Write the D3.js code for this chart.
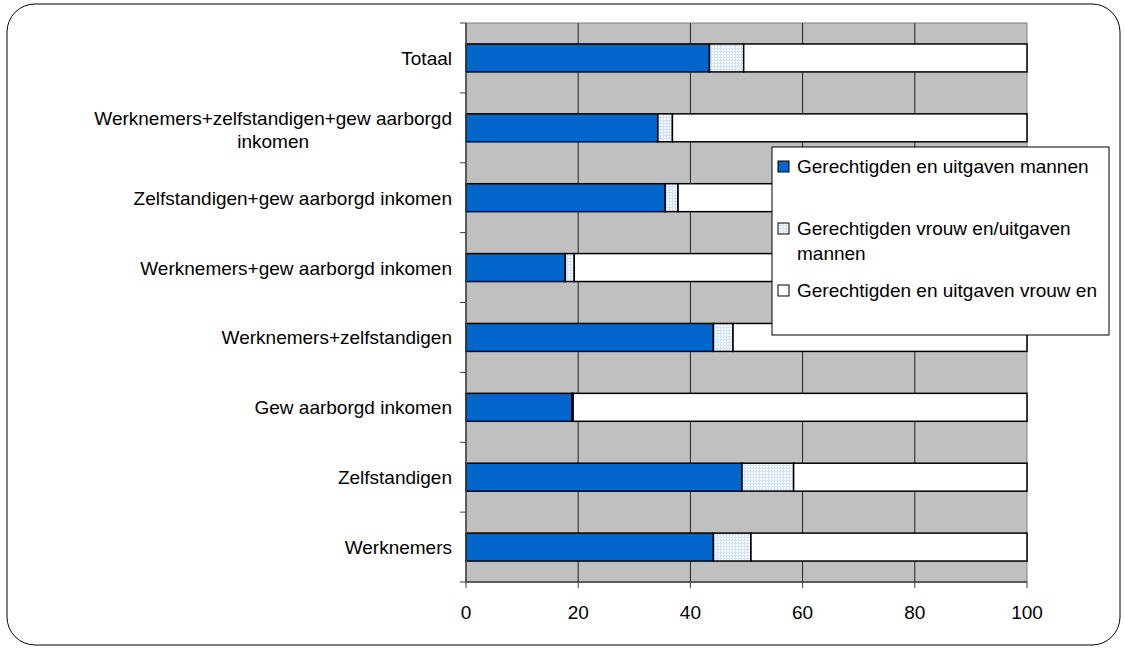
<!DOCTYPE html>
<html lang="nl">
<head>
<meta charset="UTF-8">
<title>Gerechtigden en uitgaven</title>
<script src="https://d3js.org/d3.v7.min.js"></script>
<style>
    body { margin: 0; background: #fff; }
    svg text { font-family: "Liberation Sans", Arial, sans-serif; font-size: 19px; fill: #000; }
</style>
</head>
<body>
<div id="chart"></div>
<script>
// data (percent)
const categories = [
    "Totaal",
    "Werknemers+zelfstandigen+gew aarborgd\ninkomen",
    "Zelfstandigen+gew aarborgd inkomen",
    "Werknemers+gew aarborgd inkomen",
    "Werknemers+zelfstandigen",
    "Gew aarborgd inkomen",
    "Zelfstandigen",
    "Werknemers"
];
const mannen        = [43.4, 34.2, 35.5, 17.7, 44.1, 18.9, 49.2, 44.1];
const vrouwenMannen = [6.1, 2.6, 2.3, 1.6, 3.5, 0.2, 9.2, 6.7];
const vrouwen       = [50.5, 63.2, 62.2, 80.7, 52.4, 80.9, 41.6, 49.2];
const seriesNames = [
    "Gerechtigden en uitgaven mannen",
    "Gerechtigden vrouw en/uitgaven\nmannen",
    "Gerechtigden en uitgaven vrouw en"
];
const xTicks = [0, 20, 40, 60, 80, 100];

const width = 1125, height = 649;
const plot = { left: 466, right: 1027, top: 23, bottom: 582 };

const svg = d3.select("#chart").append("svg")
    .attr("width", width)
    .attr("height", height);

// pattern for the light series
const defs = svg.append("defs");
const pat = defs.append("pattern")
    .attr("id", "dots")
    .attr("width", 3).attr("height", 3)
    .attr("patternUnits", "userSpaceOnUse");
pat.append("rect").attr("width", 3).attr("height", 3).attr("fill", "#f6f9fd");
pat.append("rect").attr("width", 3).attr("height", 1).attr("fill", "#d3e2f6");
pat.append("rect").attr("width", 1).attr("height", 3).attr("fill", "#d3e2f6");

const colors = ["#0066cc", "url(#dots)", "#ffffff"];

// outer frame
svg.append("rect")
    .attr("x", 7).attr("y", 4)
    .attr("width", 1113).attr("height", 641)
    .attr("rx", 28).attr("ry", 28)
    .attr("fill", "#fff")
    .attr("stroke", "#000")
    .attr("stroke-width", 1);

const x = d3.scaleLinear().domain([0, 100]).range([plot.left, plot.right]);
const y = d3.scaleBand().domain(categories)
    .range([plot.top, plot.bottom])
    .paddingInner(0.6).paddingOuter(0.3);

// plot background
svg.append("rect")
    .attr("x", plot.left).attr("y", plot.top)
    .attr("width", plot.right - plot.left).attr("height", plot.bottom - plot.top)
    .attr("fill", "#c0c0c0")
    .attr("stroke", "#808080");

// vertical grid lines
svg.append("g")
    .selectAll("line")
    .data(xTicks.slice(1, -1))
    .join("line")
    .attr("x1", d => x(d)).attr("x2", d => x(d))
    .attr("y1", plot.top).attr("y2", plot.bottom)
    .attr("stroke", "#202020");

// stacked bars
const rows = categories.map((c, i) => ({ cat: c, values: [mannen[i], vrouwenMannen[i], vrouwen[i]] }));
const stackData = d3.stack().keys([0, 1, 2]).value((d, k) => d.values[k])(rows);

svg.append("g")
    .selectAll("g")
    .data(stackData)
    .join("g")
    .attr("fill", (d, i) => colors[i])
    .selectAll("rect")
    .data(d => d)
    .join("rect")
    .attr("x", d => x(d[0]))
    .attr("width", d => x(d[1]) - x(d[0]))
    .attr("y", d => y(d.data.cat))
    .attr("height", y.bandwidth())
    .attr("stroke", "#000")
    .attr("stroke-width", 1.5);

// y axis line and ticks at band boundaries
const step = y.step();
const yTickPos = d3.range(categories.length + 1).map(i => plot.top + i * step);
svg.append("line")
    .attr("x1", plot.left).attr("x2", plot.left)
    .attr("y1", plot.top).attr("y2", plot.bottom)
    .attr("stroke", "#404040").attr("stroke-width", 1.5);
svg.append("g").selectAll("line")
    .data(yTickPos)
    .join("line")
    .attr("x1", plot.left - 6).attr("x2", plot.left)
    .attr("y1", d => d).attr("y2", d => d)
    .attr("stroke", "#404040");

// y labels
const labelRight = 452;
const lineH = 23;
categories.forEach(c => {
    const lines = c.split("\n");
    const cy = y(c) + y.bandwidth() / 2;
    const t = svg.append("text")
        .attr("text-anchor", "middle")
        .attr("dominant-baseline", "central");
    lines.forEach((l, j) => {
        t.append("tspan")
            .attr("y", cy + (j - (lines.length - 1) / 2) * lineH + (lines.length > 1 ? 2 : 0))
            .text(l);
    });
    let maxW = 0;
    t.selectAll("tspan").each(function () { maxW = Math.max(maxW, this.getComputedTextLength()); });
    t.selectAll("tspan").attr("x", labelRight - maxW / 2);
});

// x axis
svg.append("line")
    .attr("x1", plot.left).attr("x2", plot.right)
    .attr("y1", plot.bottom).attr("y2", plot.bottom)
    .attr("stroke", "#404040").attr("stroke-width", 1.5);
svg.append("g").selectAll("line")
    .data(xTicks)
    .join("line")
    .attr("x1", d => x(d)).attr("x2", d => x(d))
    .attr("y1", plot.bottom).attr("y2", plot.bottom + 6)
    .attr("stroke", "#404040");
svg.append("g").selectAll("text")
    .data(xTicks)
    .join("text")
    .attr("x", d => x(d))
    .attr("y", 612)
    .attr("text-anchor", "middle")
    .attr("dominant-baseline", "central")
    .text(d => d);

// legend
const legend = svg.append("g");
legend.append("rect")
    .attr("x", 772).attr("y", 147)
    .attr("width", 337).attr("height", 188)
    .attr("fill", "#fff")
    .attr("stroke", "#000");
const legendY = [166, 228, 290];
seriesNames.forEach((name, i) => {
    legend.append("rect")
        .attr("x", 778).attr("y", legendY[i] - 5)
        .attr("width", 11).attr("height", 11)
        .attr("fill", colors[i])
        .attr("stroke", "#000");
    const t = legend.append("text").attr("dominant-baseline", "central");
    name.split("\n").forEach((l, j) => {
        t.append("tspan").attr("x", 797).attr("y", legendY[i] + j * 25).text(l);
    });
});
</script>
</body>
</html>
